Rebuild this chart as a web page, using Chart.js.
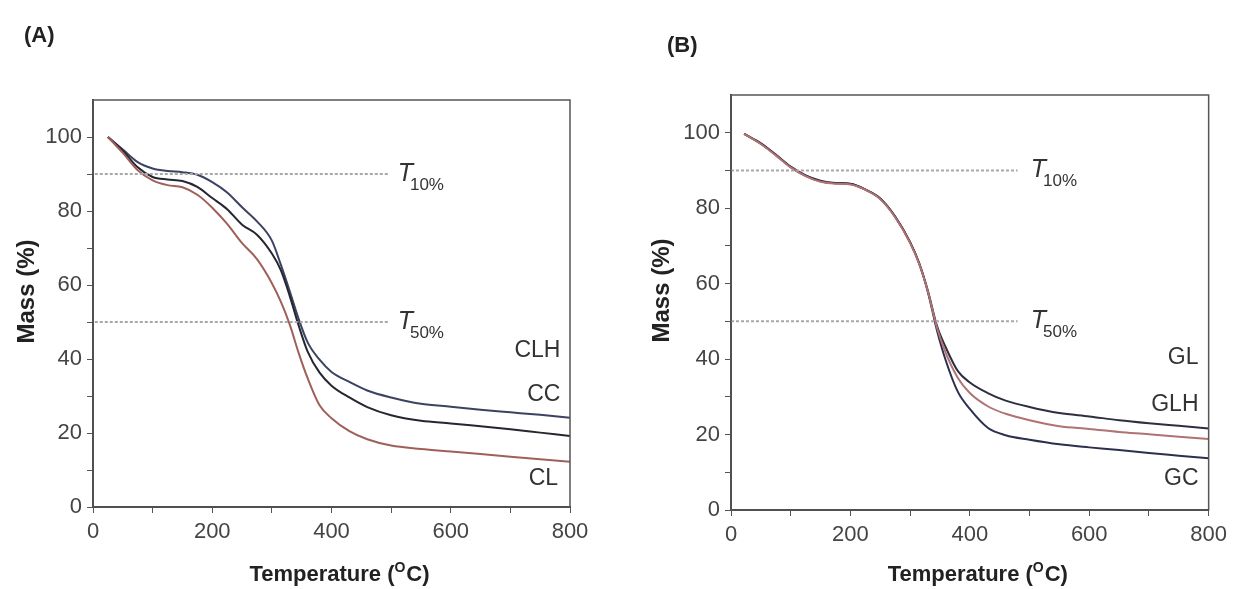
<!DOCTYPE html>
<html>
<head>
<meta charset="utf-8">
<script src="https://cdn.jsdelivr.net/npm/chart.js@4.4.0/dist/chart.umd.min.js"></script>
<style>
  html, body { margin: 0; padding: 0; background: #fff; }
  #wrap { position: relative; width: 1233px; height: 589px; }
  .panel { position: absolute; top: 0; height: 589px; }
</style>
</head>
<body>
<div id="wrap">
  <div class="panel" style="left:0;width:616px"><canvas id="chartA" width="616" height="589"></canvas></div>
  <div class="panel" style="left:616px;width:617px"><canvas id="chartB" width="617" height="589"></canvas></div>
</div>
<script>
// panel A
const tempsA = [25, 50, 75, 100, 125, 150, 175, 200, 225, 250, 275, 300, 315, 330, 345, 360, 380, 400, 430, 460, 500, 550, 600, 650, 700, 750, 800];
const clh = [100, 96.6, 93.2, 91.5, 90.8, 90.5, 89.8, 87.8, 85.0, 81.0, 77.2, 72.0, 65.5, 58.3, 50.8, 44.5, 39.8, 36.5, 33.8, 31.5, 29.6, 27.9, 27.1, 26.3, 25.6, 24.9, 24.1];
const cc = [100, 96.3, 91.8, 89.2, 88.5, 88.1, 86.5, 83.5, 80.5, 76.3, 73.6, 68.5, 64.0, 57.0, 49.0, 42.0, 36.3, 32.8, 29.6, 27.0, 24.8, 23.3, 22.6, 21.8, 21.0, 20.1, 19.2];
const cl = [100, 95.7, 91.0, 88.3, 87.0, 86.4, 84.4, 80.9, 76.5, 71.3, 67.0, 60.5, 55.5, 49.3, 41.6, 34.8, 27.5, 24.0, 20.5, 18.3, 16.6, 15.7, 15.0, 14.3, 13.6, 12.9, 12.2];

// panel B
const tempsB = [22, 50, 75, 100, 125, 150, 175, 200, 225, 250, 275, 300, 315, 330, 345, 360, 380, 400, 430, 460, 500, 550, 600, 650, 700, 750, 800];
const gl = [99.7, 97.2, 94.2, 91.0, 88.7, 87.3, 86.7, 86.5, 85.0, 82.6, 77.8, 71.0, 65.5, 58.0, 48.8, 43.0, 36.8, 33.8, 31.0, 29.0, 27.3, 25.7, 24.8, 23.8, 23.0, 22.3, 21.6];
const glh = [99.7, 97.0, 94.0, 90.8, 88.5, 87.0, 86.5, 86.3, 84.9, 82.4, 77.6, 70.8, 65.3, 57.8, 48.3, 41.5, 35.0, 31.0, 27.5, 25.5, 23.8, 22.2, 21.5, 20.7, 20.1, 19.4, 18.8];
const gc = [99.7, 97.1, 94.1, 90.9, 88.6, 87.1, 86.6, 86.4, 84.9, 82.5, 77.7, 70.9, 65.4, 57.6, 47.6, 39.5, 31.3, 26.8, 21.8, 19.8, 18.6, 17.4, 16.6, 15.9, 15.1, 14.4, 13.7];

// T10% / T50% reference levels
const refLevels = [90, 50];
const refSubs = ['10%', '50%'];
const refSpanA = [3, 495];
const refSpanB = [0, 480];

const yTicks = [0, 20, 40, 60, 80, 100];
const xTicks = [0, 200, 400, 600, 800];

const family = '"Liberation Sans", Arial, sans-serif';

const toPoints = (xs, ys) => xs.map((x, i) => ({ x: x, y: ys[i] }));

function curve(label, temps, vals, color) {
    return {
        label: label,
        data: toPoints(temps, vals),
        borderColor: color,
        borderWidth: 2,
        pointRadius: 0,
        cubicInterpolationMode: 'monotone',
        fill: false
    };
}

function refLine(level, span) {
    return {
        label: 'ref' + level,
        data: [{ x: span[0], y: level }, { x: span[1], y: level }],
        borderColor: '#a8a8a8',
        borderWidth: 2,
        borderDash: [3, 2],
        pointRadius: 0,
        fill: false
    };
}

// frame, titles and annotations
const extrasPlugin = {
    id: 'extras',
    afterDraw(chart, args, opts) {
        const ctx = chart.ctx;
        const xs = chart.scales.x;
        const ys = chart.scales.y;
        const area = chart.chartArea;
        ctx.save();

        ctx.strokeStyle = '#555';
        ctx.lineWidth = 1.5;
        ctx.strokeRect(area.left, area.top, area.right - area.left, area.bottom - area.top);

        ctx.fillStyle = '#222';
        ctx.textAlign = 'left';
        ctx.textBaseline = 'middle';
        ctx.font = 'bold 22px ' + family;
        ctx.fillText(opts.panel, opts.panelX, opts.panelY);

        // y title
        ctx.save();
        ctx.translate(opts.yTitleX, (area.top + area.bottom) / 2 - 12);
        ctx.rotate(-Math.PI / 2);
        ctx.textAlign = 'center';
        ctx.font = 'bold 24px ' + family;
        ctx.fillText('Mass (%)', 0, 0);
        ctx.restore();

        // x title with superscript O
        ctx.textBaseline = 'alphabetic';
        const big = 'bold 22px ' + family;
        const small = 'bold 14px ' + family;
        ctx.font = big;
        const w1 = ctx.measureText('Temperature (').width;
        const w3 = ctx.measureText('C)').width;
        ctx.font = small;
        const w2 = ctx.measureText('O').width + 1;
        let tx = (area.left + area.right) / 2 + 8 - (w1 + w2 + w3) / 2;
        const ty = 581;
        ctx.font = big;
        ctx.fillText('Temperature (', tx, ty);
        ctx.font = small;
        ctx.fillText('O', tx + w1, ty - 9);
        ctx.font = big;
        ctx.fillText('C)', tx + w1 + w2, ty);

        // T labels
        ctx.fillStyle = '#333';
        refLevels.forEach((lv, i) => {
            const x = xs.getPixelForValue(opts.tX);
            const y = ys.getPixelForValue(lv);
            ctx.font = 'italic 25px ' + family;
            ctx.fillText('T', x, y + 7);
            const wt = ctx.measureText('T').width;
            ctx.font = '17px ' + family;
            ctx.fillText(refSubs[i], x + wt - 3, y + 16);
        });

        // curve names
        ctx.font = '23px ' + family;
        ctx.textAlign = 'right';
        ctx.textBaseline = 'middle';
        opts.names.forEach(n => {
            ctx.fillText(n[0], xs.getPixelForValue(n[1]), ys.getPixelForValue(n[2]));
        });
        ctx.restore();
    }
};

function makeChart(id, datasets, geo, extras) {
    return new Chart(document.getElementById(id), {
        type: 'line',
        data: { datasets: datasets },
        plugins: [extrasPlugin],
        options: {
            responsive: false,
            animation: false,
            devicePixelRatio: 1,
            layout: { padding: { top: geo.top, right: geo.right, left: 0, bottom: 0 } },
            plugins: {
                legend: { display: false },
                tooltip: { enabled: false },
                extras: extras
            },
            scales: {
                x: {
                    type: 'linear',
                    min: 0,
                    max: 800,
                    afterFit: s => { s.height = geo.xh; },
                    ticks: {
                        stepSize: 100,
                        padding: 6,
                        maxRotation: 0,
                        color: '#444',
                        font: { family: family, size: 22 },
                        callback: v => xTicks.includes(v) ? String(v) : ''
                    },
                    grid: { drawOnChartArea: false, tickLength: 6, color: '#555' },
                    border: { color: '#444', width: 2 }
                },
                y: {
                    type: 'linear',
                    min: 0,
                    max: 110,
                    afterFit: s => { s.width = geo.yw; },
                    ticks: {
                        stepSize: 10,
                        padding: 5,
                        color: '#444',
                        font: { family: family, size: 22 },
                        callback: v => yTicks.includes(v) ? String(v) : ''
                    },
                    grid: {
                        drawOnChartArea: false,
                        tickLength: 6,
                        color: '#555',
                        tickColor: c => (c.tick && c.tick.value > 100) ? 'rgba(0,0,0,0)' : '#555'
                    },
                    border: { color: '#444', width: 2 }
                }
            }
        }
    });
}

makeChart('chartA', [
    refLine(refLevels[0], refSpanA),
    refLine(refLevels[1], refSpanA),
    curve('CL', tempsA, cl, '#a0605a'),
    curve('CC', tempsA, cc, '#262630'),
    curve('CLH', tempsA, clh, '#3c4262')
], { top: 100, right: 46, xh: 82, yw: 93 }, {
    panel: '(A)', panelX: 24, panelY: 36, yTitleX: 27, tX: 511,
    names: [['CLH', 784, 42.2], ['CC', 784, 30.4], ['CL', 780, 7.6]]
});

makeChart('chartB', [
    refLine(refLevels[0], refSpanB),
    refLine(refLevels[1], refSpanB),
    curve('GLH', tempsB, glh, '#b07272'),
    curve('GL', tempsB, gl, '#2e2e40'),
    curve('GC', tempsB, gc, '#2c304e')
], { top: 95, right: 22, xh: 79, yw: 115 }, {
    panel: '(B)', panelX: 51, panelY: 46, yTitleX: 46, tX: 502,
    names: [['GL', 783, 40.5], ['GLH', 783, 28], ['GC', 783, 8.2]]
});
</script>
</body>
</html>
